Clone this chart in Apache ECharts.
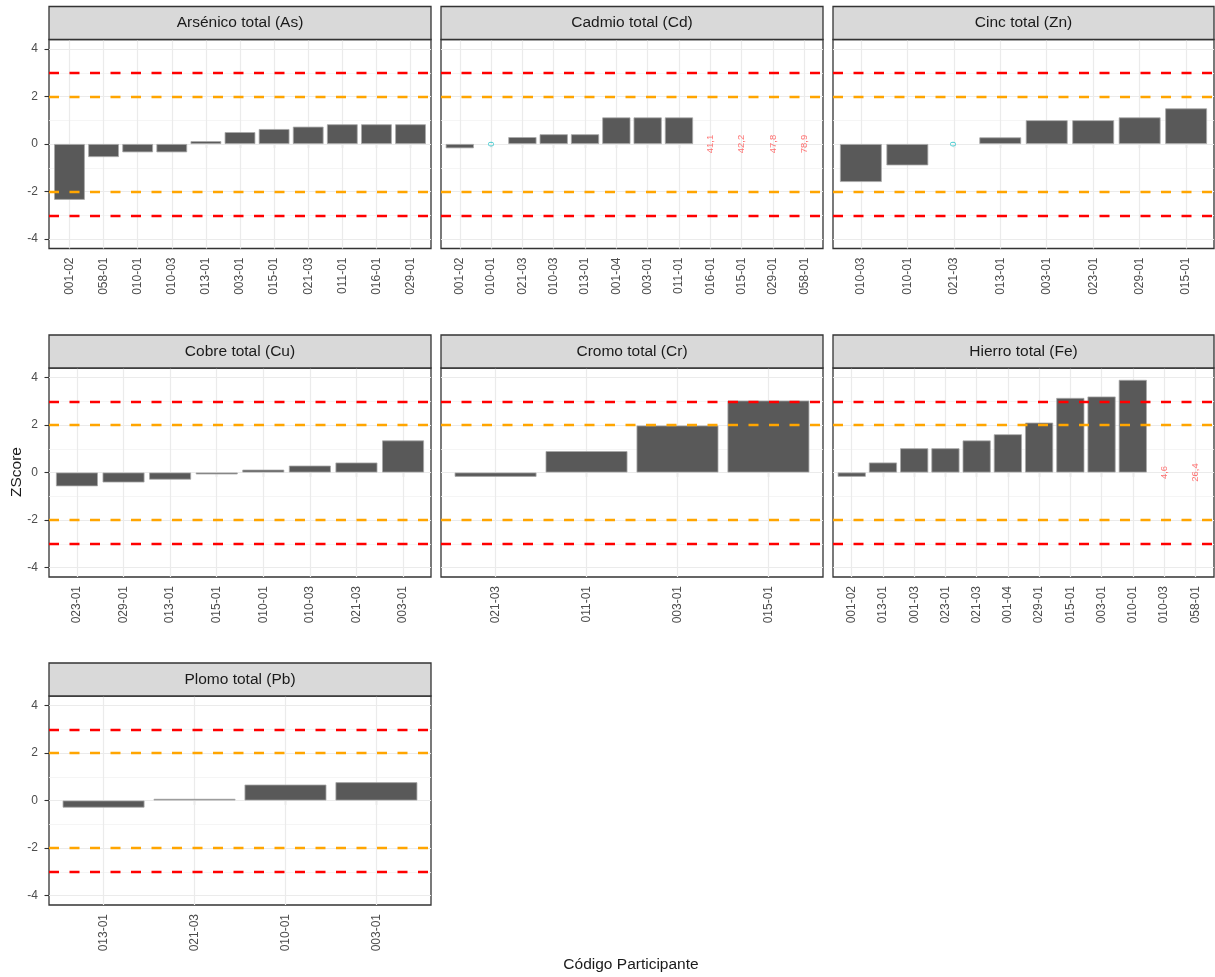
<!DOCTYPE html>
<html>
<head>
<meta charset="utf-8">
<script src="https://cdn.jsdelivr.net/npm/echarts@6/dist/echarts.min.js"></script>
<style>
  html, body { margin: 0; padding: 0; background: #ffffff; }
  #chart { width: 1215px; height: 977px; }
</style>
</head>
<body>
<div id="chart"></div>
<script>
// Z-score per participant, one array pair per analyte (same order as drawn)
const asCats = ['001-02', '058-01', '010-01', '010-03', '013-01', '003-01', '015-01', '021-03', '011-01', '016-01', '029-01'];
const asZ    = [-2.35, -0.55, -0.35, -0.35, 0.12, 0.5, 0.63, 0.73, 0.83, 0.83, 0.83];

const cdCats = ['001-02', '010-01', '021-03', '010-03', '013-01', '001-04', '003-01', '011-01', '016-01', '015-01', '029-01', '058-01'];
const cdZ    = [-0.18, 0, 0.29, 0.41, 0.41, 1.12, 1.12, 1.12, 41.1, 42.2, 47.8, 78.9];

const znCats = ['010-03', '010-01', '021-03', '013-01', '003-01', '023-01', '029-01', '015-01'];
const znZ    = [-1.6, -0.9, 0, 0.28, 1.0, 1.0, 1.12, 1.5];

const cuCats = ['023-01', '029-01', '013-01', '015-01', '010-01', '010-03', '021-03', '003-01'];
const cuZ    = [-0.58, -0.42, -0.3, -0.08, 0.12, 0.29, 0.42, 1.35];

const crCats = ['021-03', '011-01', '003-01', '015-01'];
const crZ    = [-0.18, 0.9, 1.98, 3.03];

const feCats = ['001-02', '013-01', '001-03', '023-01', '021-03', '001-04', '029-01', '015-01', '003-01', '010-01', '010-03', '058-01'];
const feZ    = [-0.18, 0.42, 1.02, 1.02, 1.35, 1.61, 2.1, 3.14, 3.2, 3.9, 4.6, 26.4];

const pbCats = ['013-01', '021-03', '010-01', '003-01'];
const pbZ    = [-0.3, 0.07, 0.67, 0.77];

const panelTitles = ['Arsénico total (As)', 'Cadmio total (Cd)', 'Cinc total (Zn)',
                     'Cobre total (Cu)', 'Cromo total (Cr)', 'Hierro total (Fe)', 'Plomo total (Pb)'];
const yTicks = [-4, -2, 0, 2, 4];
const yMinor = [-3, -1, 1, 3];
const warnLimit = 2;     // |z| = 2 warning
const actionLimit = 3;   // |z| = 3 action

const panels = [[asCats, asZ], [cdCats, cdZ], [znCats, znZ], [cuCats, cuZ], [crCats, crZ], [feCats, feZ], [pbCats, pbZ]];

// ---- layout ----
const FONT = '"Liberation Sans", Arial, sans-serif';
const colLeft = [49, 441, 833];
const colWidth = [382, 382, 381];
const rowTop = [39.5, 368, 696];
const plotH = 209;
const stripH = 33;
const Y_MIN = -4.4, Y_MAX = 4.4;

const grid = [], xAxis = [], yAxis = [], series = [], graphic = [];

function fmtZ(v) {
  return v === 0 ? '0' : v.toFixed(1).replace('.', ',');
}

panels.forEach(([cats, z], i) => {
  const col = i % 3, row = Math.floor(i / 3);
  const left = colLeft[col], w = colWidth[col], top = rowTop[row];
  // discrete axis padding: 0.6 band on each side of the outer categories
  const pad = 0.1 * w / (cats.length + 0.2);
  const f = 2 * i, b = 2 * i + 1;

  // frame grid (border, y axis, horizontal grid lines, reference lines)
  grid.push({ left: left, top: top, width: w, height: plotH, show: true,
              backgroundColor: '#ffffff', borderColor: '#333333', borderWidth: 1.3 });
  // bar grid (categories)
  grid.push({ left: left + pad, top: top, width: w - 2 * pad, height: plotH });

  xAxis.push({ gridIndex: f, type: 'value', min: 0, max: 1, show: false });
  xAxis.push({
    gridIndex: b, type: 'category', data: cats,
    axisLine: { show: false },
    axisTick: { show: true, alignWithLabel: true, length: 4.5, lineStyle: { color: '#333333', width: 1.1 } },
    axisLabel: { rotate: 90, interval: 0, margin: 9, color: '#4d4d4d', fontSize: 12, fontFamily: FONT },
    splitLine: { show: false }
  });

  yAxis.push({
    gridIndex: f, type: 'value', min: Y_MIN, max: Y_MAX,
    axisLine: { show: false },
    splitLine: { show: false },
    axisTick: { show: col === 0, customValues: yTicks, length: 4.5, lineStyle: { color: '#333333', width: 1.1 } },
    axisLabel: { show: col === 0, customValues: yTicks, margin: 11, color: '#4d4d4d', fontSize: 12, fontFamily: FONT }
  });
  yAxis.push({ gridIndex: b, type: 'value', min: Y_MIN, max: Y_MAX, show: false });

  // horizontal grid lines
  series.push({
    type: 'line', xAxisIndex: f, yAxisIndex: f, data: [], z: 1, silent: true,
    markLine: {
      silent: true, symbol: 'none', z: 1, animation: false, label: { show: false },
      data: yTicks.map(v => ({ yAxis: v, lineStyle: { color: '#ebebeb', width: 1.2, type: 'solid' } }))
        .concat(yMinor.map(v => ({ yAxis: v, lineStyle: { color: '#f2f2f2', width: 0.8, type: 'solid' } })))
    }
  });

  // bars (values outside the axis range or exactly zero are written as text)
  const barData = z.map(v => (v === 0 || Math.abs(v) > Y_MAX) ? '-' : v);
  series.push({
    type: 'bar', xAxisIndex: b, yAxisIndex: b, data: barData, z: 2,
    barCategoryGap: '10%',
    itemStyle: { color: '#595959', borderColor: '#a8a8a8', borderWidth: 0.8 },
    markLine: {
      silent: true, symbol: 'none', z: 1, animation: false, label: { show: false },
      lineStyle: { color: '#ebebeb', width: 1.2, type: 'solid' },
      data: cats.map(c => ({ xAxis: c }))
    },
    animation: false
  });

  // text marks for zero and off-scale scores
  const noteData = [];
  z.forEach((v, k) => {
    if (v === 0 || Math.abs(v) > Y_MAX) {
      noteData.push({
        value: [k, 0],
        label: { formatter: fmtZ(v), color: v === 0 ? '#14bfc6' : '#ff4f4f' }
      });
    }
  });
  series.push({
    type: 'scatter', xAxisIndex: b, yAxisIndex: b, data: noteData, z: 6,
    symbolSize: 2, itemStyle: { color: 'rgba(0,0,0,0)' }, silent: true,
    label: { show: true, position: 'inside', rotate: 90, fontSize: 9.5, fontFamily: FONT,
             align: 'center', verticalAlign: 'middle' },
    emphasis: { disabled: true },
    animation: false
  });

  // warning / action limits, drawn over the bars
  series.push({
    type: 'line', xAxisIndex: f, yAxisIndex: f, data: [], z: 5, silent: true,
    markLine: {
      silent: true, symbol: 'none', z: 5, animation: false, label: { show: false },
      data: [
        { yAxis: actionLimit, lineStyle: { color: '#ff0000', width: 2.3, type: [10, 10.5] } },
        { yAxis: warnLimit, lineStyle: { color: '#ffa500', width: 2.3, type: [10, 10.5] } },
        { yAxis: -warnLimit, lineStyle: { color: '#ffa500', width: 2.3, type: [10, 10.5] } },
        { yAxis: -actionLimit, lineStyle: { color: '#ff0000', width: 2.3, type: [10, 10.5] } }
      ]
    }
  });

  // facet strip
  graphic.push({
    type: 'rect', z: 10,
    shape: { x: left, y: top - stripH, width: w, height: stripH },
    style: { fill: '#d9d9d9', stroke: '#333333', lineWidth: 1.3 }
  });
  graphic.push({
    type: 'text', z: 11,
    x: left + w / 2, y: top - stripH / 2,
    style: { text: panelTitles[i], align: 'center', verticalAlign: 'middle',
             font: '15.5px ' + FONT, fill: '#1a1a1a' }
  });
});

// shared axis titles
graphic.push({
  type: 'text', z: 11, x: 17, y: 472, rotation: Math.PI / 2,
  style: { text: 'ZScore', align: 'center', verticalAlign: 'middle', font: '15.5px ' + FONT, fill: '#1a1a1a' }
});
graphic.push({
  type: 'text', z: 11, x: 631, y: 965,
  style: { text: 'Código Participante', align: 'center', verticalAlign: 'middle', font: '15.5px ' + FONT, fill: '#1a1a1a' }
});

const chart = echarts.init(document.getElementById('chart'), null, { renderer: 'canvas' });
chart.setOption({
  animation: false,
  backgroundColor: '#ffffff',
  grid: grid,
  xAxis: xAxis,
  yAxis: yAxis,
  series: series,
  graphic: graphic
});
</script>
</body>
</html>
